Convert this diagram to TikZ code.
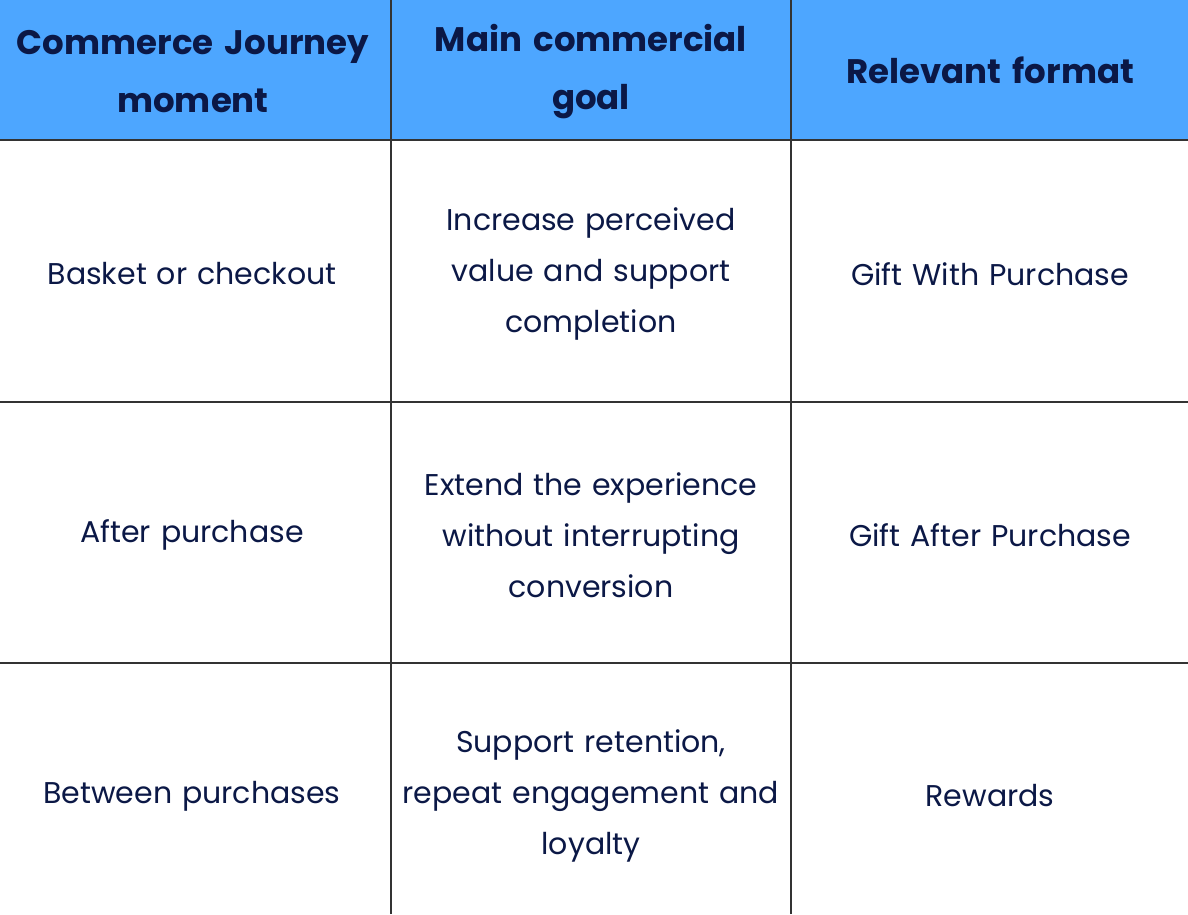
\documentclass[tikz,border=0pt]{standalone}
\usepackage{fontspec}
\setmainfont{Poppins}
\definecolor{ink}{HTML}{0B1846}
\definecolor{head}{HTML}{4DA6FF}
\definecolor{grid}{HTML}{333333}
\begin{document}
\begin{tikzpicture}[x=1pt,y=1pt,
  cell/.style={text=ink,align=center,font=\fontsize{30}{51}\selectfont,text width=390pt},
  hcell/.style={text=ink,align=center,font=\fontsize{34}{58}\selectfont\bfseries,text width=395pt}]
\useasboundingbox (0,0) rectangle (1188,914);
\fill[white] (0,0) rectangle (1188,914);
\fill[head] (0,774) rectangle (1188,914);
\draw[grid,line width=1.2pt] (391,0)--(391,914) (791,0)--(791,914)
  (0,774)--(1188,774) (0,512)--(1188,512) (0,251)--(1188,251);
\node[hcell] (h1) at (193,842) {Commerce Journey\\moment};
\node[hcell] (h2) at (591,842) {Main commercial\\goal};
\node[hcell] (h3) at (990,844) {Relevant format};
\node[cell] (a1) at (192,640) {Basket or checkout};
\node[cell] (a2) at (591,640) {Increase perceived\\value and support\\completion};
\node[cell] (a3) at (990,640) {Gift With Purchase};
\node[cell] (b1) at (192,379) {After purchase};
\node[cell] (b2) at (591,379) {Extend the experience\\without interrupting\\conversion};
\node[cell] (b3) at (990,379) {Gift After Purchase};
\node[cell] (c1) at (192,118) {Between purchases};
\node[cell] (c2) at (591,118) {Support retention,\\repeat engagement and\\loyalty};
\node[cell] (c3) at (990,118) {Rewards};
\end{tikzpicture}
\end{document}
